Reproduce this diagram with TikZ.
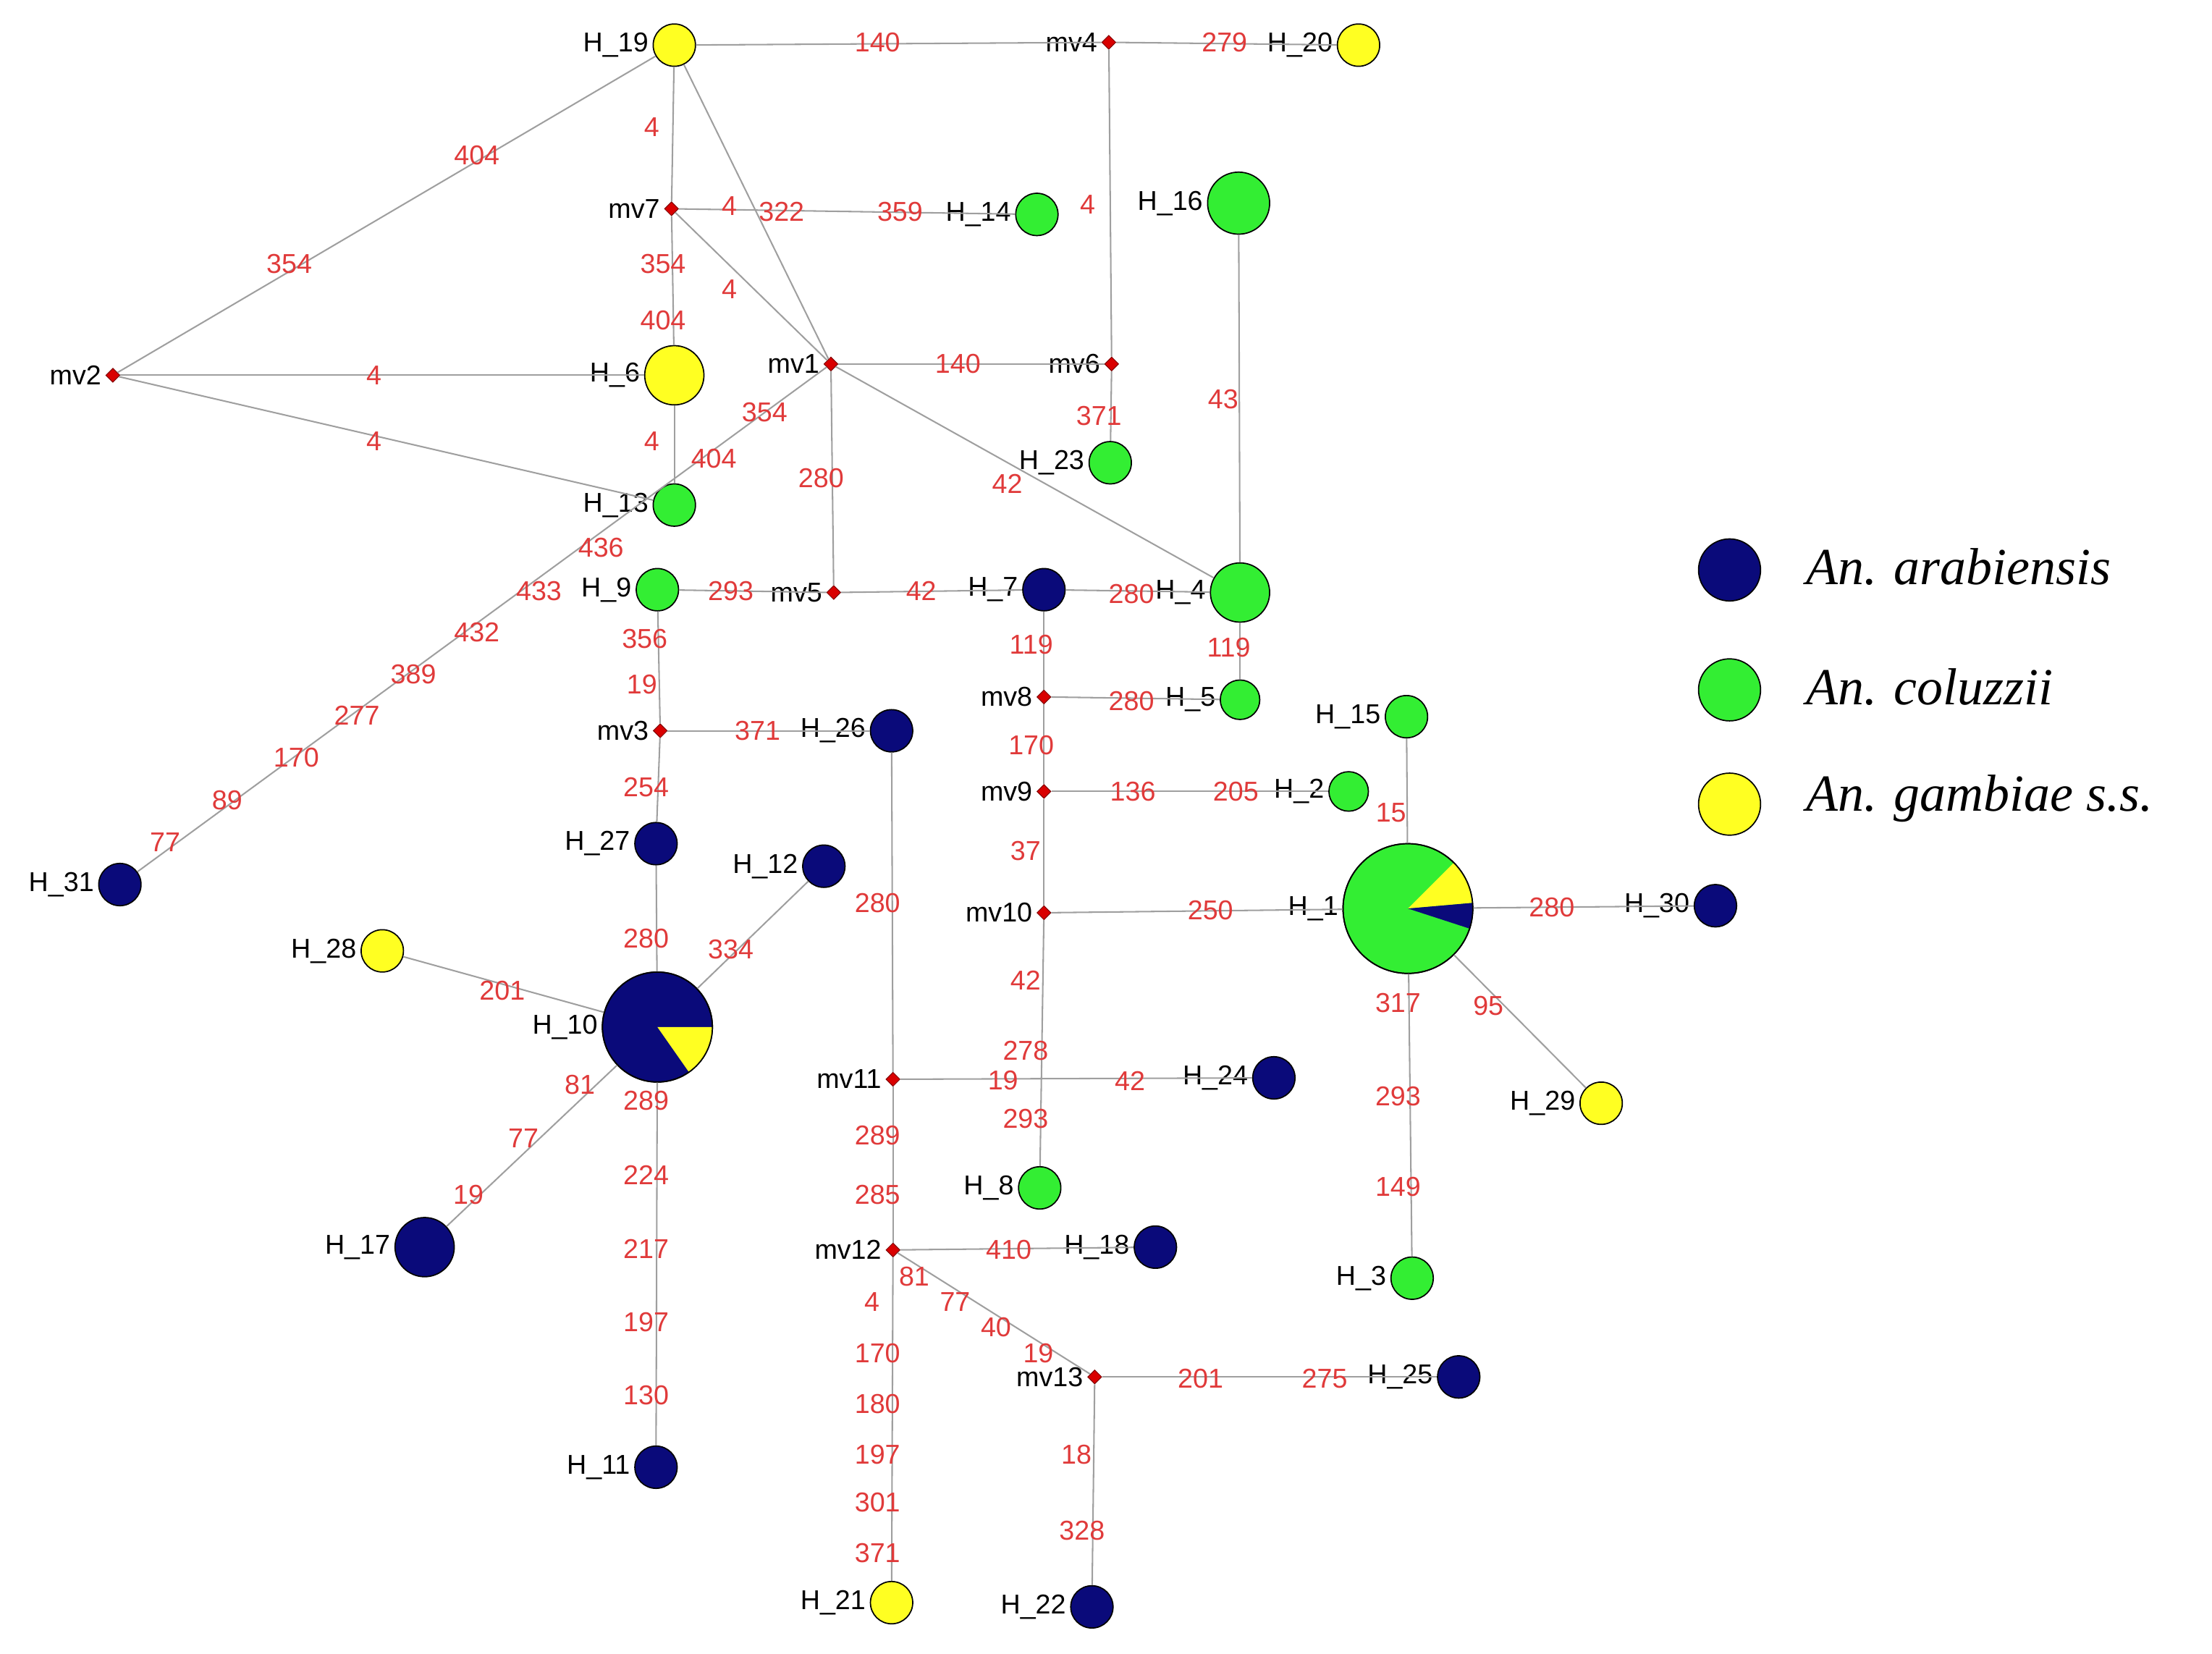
\documentclass[tikz,border=0pt]{standalone}
\usepackage{fontspec}
\setmainfont{Liberation Serif}
\setsansfont{Liberation Sans}
\usetikzlibrary{shapes.geometric}
\definecolor{blu}{HTML}{0A0A7A}
\definecolor{grn}{HTML}{33EE33}
\definecolor{yel}{HTML}{FFFF22}
\definecolor{lred}{HTML}{E03A3A}
\begin{document}
\begin{tikzpicture}[x=0.02cm,y=-0.02cm,
 hap/.style={circle,draw=black,line width=0.5pt,inner sep=0pt,minimum size=#1*0.04cm},
 hb/.style={hap=#1,fill=blu},hg/.style={hap=#1,fill=grn},hy/.style={hap=#1,fill=yel},
 mv/.style={diamond,fill=red!85!black,draw=red!50!black,line width=0.3pt,inner sep=0pt,minimum size=0.2cm},
 lab/.style={font=\sffamily\fontsize{11}{13}\selectfont,text=lred,inner sep=0.5pt},
 nl/.style={label={[font=\sffamily\fontsize{11}{13}\selectfont,inner sep=0.5pt,label distance=1pt]left:#1}},
 edge/.style={draw=gray!75,line width=0.6pt}]
\useasboundingbox (0,0) rectangle (1568,1172);
% nodes
\node[hy=15,nl=H\_19] (H19) at (478,32) {};
\node[mv,nl=mv4] (mv4) at (786,30) {};
\node[hy=15,nl=H\_20] (H20) at (963,32) {};
\node[mv,nl=mv7] (mv7) at (476,148) {};
\node[hg=15,nl=H\_14] (H14) at (735,152) {};
\node[hg=22,nl=H\_16] (H16) at (878,144) {};
\node[mv,nl=mv2] (mv2) at (80,266) {};
\node[hy=21,nl=H\_6] (H6) at (478,266) {};
\node[mv,nl=mv1] (mv1) at (589,258) {};
\node[mv,nl=mv6] (mv6) at (788,258) {};
\node[hg=15,nl=H\_23] (H23) at (787,328) {};
\node[hg=15,nl=H\_13] (H13) at (478,358) {};
\node[hg=15,nl=H\_9] (H9) at (466,418) {};
\node[mv,nl=mv5] (mv5) at (591,420) {};
\node[hb=15,nl=H\_7] (H7) at (740,418) {};
\node[hg=21,nl=H\_4] (H4) at (879,420) {};
\node[mv,nl=mv8] (mv8) at (740,494) {};
\node[hg=14,nl=H\_5] (H5) at (879,496) {};
\node[mv,nl=mv3] (mv3) at (468,518) {};
\node[hb=15,nl=H\_26] (H26) at (632,518) {};
\node[hg=15,nl=H\_15] (H15) at (997,508) {};
\node[mv,nl=mv9] (mv9) at (740,561) {};
\node[hg=14,nl=H\_2] (H2) at (956,561) {};
\node[hb=15,nl=H\_27] (H27) at (465,598) {};
\node[hb=15,nl=H\_12] (H12) at (584,614) {};
\node[hb=15,nl=H\_31] (H31) at (85,627) {};
\node[mv,nl=mv10] (mv10) at (740,647) {};
\node[hg=46,nl=H\_1] (H1) at (998,644) {};
\node[hb=15,nl=H\_30] (H30) at (1216,642) {};
\node[hy=15,nl=H\_28] (H28) at (271,674) {};
\node[hb=39,nl=H\_10] (H10) at (466,728) {};
\node[mv,nl=mv11] (mv11) at (633,765) {};
\node[hb=15,nl=H\_24] (H24) at (903,764) {};
\node[hy=15,nl=H\_29] (H29) at (1135,782) {};
\node[hg=15,nl=H\_8] (H8) at (737,842) {};
\node[hb=21,nl=H\_17] (H17) at (301,884) {};
\node[mv,nl=mv12] (mv12) at (633,886) {};
\node[hb=15,nl=H\_18] (H18) at (819,884) {};
\node[hg=15,nl=H\_3] (H3) at (1001,906) {};
\node[mv,nl=mv13] (mv13) at (776,976) {};
\node[hb=15,nl=H\_25] (H25) at (1034,976) {};
\node[hb=15,nl=H\_11] (H11) at (465,1040) {};
\node[hy=15,nl=H\_21] (H21) at (632,1136) {};
\node[hb=15,nl=H\_22] (H22) at (774,1139) {};
% pies
\fill[yel] (H1.center) -- ++(5:0.92cm) arc[start angle=5,end angle=45,radius=0.92cm] -- cycle;
\fill[blu] (H1.center) -- ++(-18:0.92cm) arc[start angle=-18,end angle=5,radius=0.92cm] -- cycle;
\draw[line width=0.5pt] (H1.center) circle[radius=0.92cm];
\fill[yel] (H10.center) -- ++(-55:0.78cm) arc[start angle=-55,end angle=0,radius=0.78cm] -- cycle;
\draw[line width=0.5pt] (H10.center) circle[radius=0.78cm];
% edges
\foreach \a/\b in {H19/mv4,mv4/H20,H19/mv7,H19/mv2,H19/mv1,mv4/mv6,mv7/H14,mv7/mv1,mv7/H6,mv2/H6,mv2/H13,mv1/mv6,mv1/H4,mv1/mv5,mv1/H31,H6/H13,mv6/H23,H16/H4,H9/mv5,mv5/H7,H7/H4,H4/H5,H7/mv8,mv8/H5,mv8/mv9,H9/mv3,mv3/H26,mv9/H2,mv9/mv10,mv3/H27,H26/mv11,mv10/H1,mv10/H8,H15/H1,H1/H30,H1/H29,H1/H3,H27/H10,H12/H10,H28/H10,H10/H17,H10/H11,mv11/H24,mv11/mv12,mv12/H18,mv12/mv13,mv12/H21,mv13/H25,mv13/H22}
  \draw[edge] (\a) -- (\b);
% edge labels
\foreach \x/\y/\t in {622/30/140,868/30/279,462/90/4,338/110/404,205/187/354,771/145/4,517/146/4,554/150/322,638/150/359,517/205/4,470/187/354,470/227/404,265/266/4,265/313/4,679/258/140,714/343/42,582/339/280,542/292/354,506/325/404,426/388/436,382/419/433,338/448/432,293/478/389,253/507/277,210/537/170,161/567/89,117/597/77,462/313/4,779/295/371,867/283/43,518/419/293,653/419/42,802/421/280,871/459/119,731/457/119,802/497/280,731/528/170,457/453/356,455/485/19,537/518/371,803/561/136,876/561/205,727/603/37,458/558/254,622/640/280,858/645/250,727/695/42,727/745/278,727/793/293,986/576/15,1100/643/280,1055/713/95,991/711/317,991/777/293,991/841/149,458/665/280,518/673/334,356/702/201,411/769/81,371/807/77,332/847/19,458/780/289,458/833/224,458/885/217,458/937/197,458/989/130,711/766/19,801/766/42,622/805/289,622/847/285,715/886/410,648/905/81,677/923/77,706/941/40,736/959/19,618/923/4,622/959/170,622/995/180,622/1031/197,622/1065/301,622/1101/371,851/977/201,939/977/275,763/1031/18,767/1085/328}
  \node[lab] at (\x,\y) {\t};
% legend
\node[hb=22] (L1) at (1226,404) {};
\node[hg=22] (L2) at (1226,489) {};
\node[hy=22] (L3) at (1226,570) {};
\node[anchor=west,font=\itshape\fontsize{21}{24}\selectfont] (T1) at (1274,402) {An. arabiensis};
\node[anchor=west,font=\itshape\fontsize{21}{24}\selectfont] (T2) at (1274,487) {An. coluzzii};
\node[anchor=west,font=\itshape\fontsize{21}{24}\selectfont] (T3) at (1274,566) {An. gambiae s.s.};
\end{tikzpicture}
\end{document}
